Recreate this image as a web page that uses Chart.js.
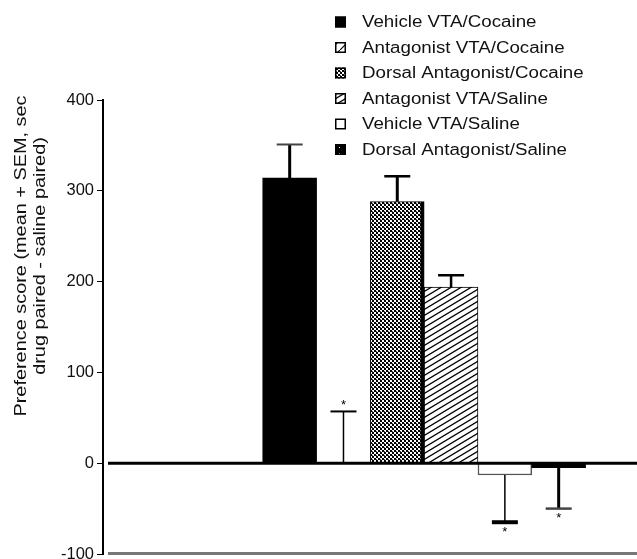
<!DOCTYPE html>
<html>
<head>
<meta charset="utf-8">
<script src="https://cdn.jsdelivr.net/npm/chart.js@4/dist/chart.umd.min.js"></script>
<style>
html,body{margin:0;padding:0;background:#fff;}
#wrap{width:637px;height:559px;position:relative;}
</style>
</head>
<body>
<div id="wrap"><canvas id="c" width="637" height="559"></canvas></div>
<script>
// ---- data ----
const categories = ["Vehicle VTA/Cocaine","Antagonist VTA/Cocaine","Dorsal Antagonist/Cocaine","Antagonist VTA/Saline","Vehicle VTA/Saline","Dorsal Antagonist/Saline"];
const meanValues = [314, 0, 288, 194, -13, -5];
const semValues = [37, 57, 28, 13, 52, 45];
const significant = [false, true, false, false, true, true];
const yTicks = [-100, 0, 100, 200, 300, 400];
const yTitleLines = ["Preference score (mean + SEM, sec", "drug paired - saline paired)"];

// ---- patterns ----
function tile(w, h, draw) {
  const c = document.createElement('canvas');
  c.width = w; c.height = h;
  const g = c.getContext('2d');
  draw(g, w, h);
  return g.createPattern(c, 'repeat');
}
const patSparseHatch = tile(10, 10, (g, w, h) => {
  g.fillStyle = '#fff'; g.fillRect(0, 0, w, h);
  g.strokeStyle = '#000'; g.lineWidth = 1.2;
  g.beginPath(); g.moveTo(0, h); g.lineTo(w, 0); g.stroke();
});
const patChecker = tile(4, 4, (g, w, h) => {
  g.fillStyle = '#fff'; g.fillRect(0, 0, w, h);
  g.fillStyle = '#000'; g.fillRect(0, 0, 2, 2); g.fillRect(2, 2, 2, 2);
  g.fillStyle = '#555'; g.fillRect(0, 3, 1, 1);
});
const patHatch = tile(10, 6, (g, w, h) => {
  g.fillStyle = '#fff'; g.fillRect(0, 0, w, h);
  g.strokeStyle = '#000'; g.lineWidth = 1.3;
  g.beginPath();
  g.moveTo(-w, 2 * h); g.lineTo(2 * w, -h);
  g.moveTo(-2 * w, 2 * h); g.lineTo(w, -h);
  g.moveTo(0, 2 * h); g.lineTo(3 * w, -h);
  g.stroke();
});
const patDots = tile(6, 6, (g, w, h) => {
  g.fillStyle = '#000'; g.fillRect(0, 0, w, h);
  g.fillStyle = '#fff'; g.fillRect(3, 3, 1, 1);
});
const fills = ['#000', patSparseHatch, patChecker, patHatch, '#fff', '#000'];
const legendFills = ['#000', patSparseHatch, patChecker, patHatch, '#fff', patDots];
const borderColors = ['#000', '#000', '#000', '#000', '#555', '#000'];
const borderWidths = [0, 0, {left: 1, right: 4, top: 1, bottom: 0}, 1, 1.5, 0];

// ---- plugins ----
const refLines = {
  id: 'refLines',
  afterDatasetsDraw(chart) {
    const {ctx, chartArea, scales: {y}} = chart;
    ctx.save();
    ctx.lineCap = 'butt';
    ctx.strokeStyle = '#000'; ctx.lineWidth = 3;
    const y0 = y.getPixelForValue(0);
    ctx.beginPath(); ctx.moveTo(chartArea.left + 5, y0); ctx.lineTo(chartArea.right, y0); ctx.stroke();
    ctx.strokeStyle = '#777'; ctx.lineWidth = 3;
    const yb = y.getPixelForValue(y.min) - 0.5;
    ctx.beginPath(); ctx.moveTo(chartArea.left + 5, yb); ctx.lineTo(chartArea.right, yb); ctx.stroke();
    ctx.restore();
  }
};
const errorBars = {
  id: 'errorBars',
  afterDatasetsDraw(chart, args, opts) {
    const {ctx, scales: {y}} = chart;
    const meta = chart.getDatasetMeta(0);
    ctx.save();
    meta.data.forEach((bar, i) => {
      const v = meanValues[i];
      const dir = v >= 0 ? 1 : -1;
      const yEnd = y.getPixelForValue(v);
      const yTip = y.getPixelForValue(v + dir * semValues[i]);
      ctx.strokeStyle = '#000';
      ctx.lineWidth = opts.stemWidths[i];
      ctx.beginPath(); ctx.moveTo(bar.x, yEnd); ctx.lineTo(bar.x, yTip); ctx.stroke();
      ctx.strokeStyle = opts.capColors[i];
      ctx.lineWidth = opts.capWidths[i];
      ctx.beginPath(); ctx.moveTo(bar.x - opts.capHalf, yTip); ctx.lineTo(bar.x + opts.capHalf, yTip); ctx.stroke();
      if (significant[i]) {
        ctx.fillStyle = '#000';
        ctx.font = '13px "Liberation Sans", Arial, sans-serif';
        ctx.textAlign = 'center';
        ctx.textBaseline = 'middle';
        ctx.fillText('*', bar.x, yTip - dir * 8 + 2);
      }
    });
    ctx.restore();
  }
};
const sideTexts = {
  id: 'sideTexts',
  afterDraw(chart, args, opts) {
    const {ctx} = chart;
    ctx.save();
    // legend
    categories.forEach((name, i) => {
      const cy = opts.legendTop + i * opts.legendStep;
      ctx.fillStyle = legendFills[i];
      ctx.fillRect(opts.legendX, cy - 5.5, 11, 11);
      ctx.strokeStyle = '#000'; ctx.lineWidth = 1.5;
      ctx.strokeRect(opts.legendX + 0.75, cy - 4.75, 9.5, 9.5);
      ctx.save();
      ctx.translate(opts.legendX + 27, cy + 1);
      ctx.scale(opts.stretch, 1);
      ctx.font = opts.legendFont;
      ctx.textBaseline = 'middle';
      ctx.textAlign = 'left';
      ctx.fillStyle = '#111';
      ctx.fillText(name, 0, 0);
      ctx.restore();
    });
    // y title
    ctx.translate(opts.titleX, opts.titleY);
    ctx.rotate(-Math.PI / 2);
    ctx.scale(opts.stretch, 1);
    ctx.font = opts.titleFont;
    ctx.textAlign = 'center';
    ctx.textBaseline = 'middle';
    ctx.fillStyle = '#111';
    yTitleLines.forEach((line, k) => ctx.fillText(line, 0, k * opts.titleLineGap));
    ctx.restore();
  }
};

new Chart(document.getElementById('c'), {
  type: 'bar',
  data: {
    labels: categories,
    datasets: [{
      label: 'Preference score',
      data: meanValues.map((v, i) => ({x: i + 1, y: v})),
      backgroundColor: fills,
      borderColor: borderColors,
      borderWidth: borderWidths,
      borderSkipped: 'start',
      categoryPercentage: 1,
      barPercentage: 1
    }]
  },
  options: {
    responsive: false,
    animation: false,
    events: [],
    layout: {padding: {top: 100, bottom: 5, left: 0, right: 0}},
    plugins: {
      legend: {display: false},
      tooltip: {enabled: false},
      errorBars: {
        stemWidths: [3, 1.5, 3, 2.5, 1.5, 3],
        capWidths: [2, 2, 2.5, 2.5, 4, 2.5],
        capColors: ['#444', '#000', '#000', '#000', '#000', '#444'],
        capHalf: 13
      },
      sideTexts: {
        stretch: 1.17,
        legendFont: '16px "Liberation Sans", Arial, sans-serif',
        legendX: 335, legendTop: 22, legendStep: 25.5,
        titleFont: '17px "Liberation Sans", Arial, sans-serif',
        titleX: 21, titleY: 256, titleLineGap: 19
      }
    },
    scales: {
      x: {
        type: 'linear',
        display: false,
        offset: false,
        min: -2.47,
        max: 7.456,
        grid: {display: false}
      },
      y: {
        min: -100,
        max: 400,
        afterFit(scale) { scale.width = 103; scale.paddingTop = 0; scale.paddingBottom = 0; },
        afterBuildTicks(scale) { scale.ticks = yTicks.map(v => ({value: v})); },
        ticks: {
          color: '#111',
          padding: 3,
          font: {family: '"Liberation Sans", Arial, sans-serif', size: 16.5}
        },
        grid: {drawOnChartArea: false, tickLength: 6, tickColor: '#000', tickWidth: 1},
        border: {color: '#000', width: 2}
      }
    }
  },
  plugins: [refLines, errorBars, sideTexts]
});
</script>
</body>
</html>
